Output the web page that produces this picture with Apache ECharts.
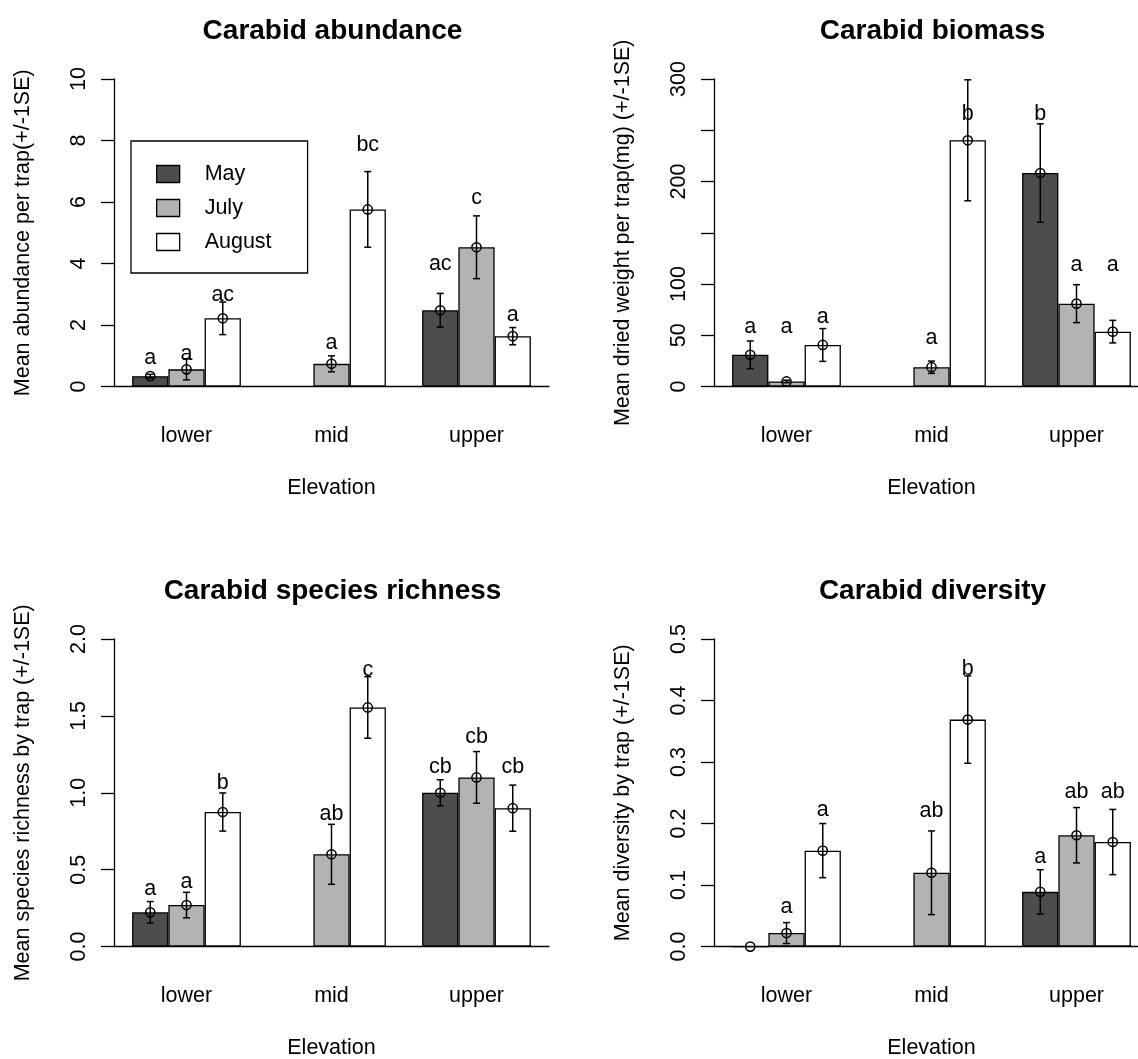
<!DOCTYPE html>
<html><head><meta charset="utf-8">
<script src="https://cdn.jsdelivr.net/npm/echarts@6/dist/echarts.min.js"></script>
<style>html,body{margin:0;padding:0;background:#fff}#c{width:1138px;height:1059px}</style>
</head><body><div id="c"></div>
<script>
// ---------- DATA ----------
const elevations = ['lower', 'mid', 'upper'];
const months = ['May', 'July', 'August'];

// rows: May, July, August ; columns: lower, mid, upper
const abundanceMean   = [[0.34, null, 2.48], [0.56, 0.74, 4.53], [2.22, 5.76, 1.64]];
const abundanceSE     = [[0.06, null, 0.55], [0.34, 0.26, 1.02], [0.53, 1.23, 0.28]];
const abundanceLetters= [['a', '', 'ac'], ['a', 'a', 'c'], ['ac', 'bc', 'a']];
const abundanceLetterY= [[0.92, null, 3.97], [1.06, 1.41, 6.13], [2.96, 7.86, 2.31]];
const abundanceTicks  = [0, 2, 4, 6, 8, 10];
const abundanceTickLabels = ['0', '2', '4', '6', '8', '10'];

const biomassMean   = [[31, null, 208.3], [5, 18.9, 80.9], [40.6, 240.2, 53.6]];
const biomassSE     = [[13.5, null, 48], [1.2, 6, 18.5], [16, 59, 11]];
const biomassLetters= [['a', '', 'b'], ['a', 'a', 'a'], ['a', 'b', 'a']];
const biomassLetterY= [[58, null, 266], [58, 47.6, 119], [68, 266, 119]];
const biomassTicks  = [0, 50, 100, 150, 200, 250, 300];
const biomassTickLabels = ['0', '50', '100', '', '200', '', '300'];

const richnessMean   = [[0.223, null, 1.0], [0.27, 0.6, 1.1], [0.875, 1.555, 0.9]];
const richnessSE     = [[0.07, null, 0.085], [0.083, 0.195, 0.168], [0.124, 0.2, 0.15]];
const richnessLetters= [['a', '', 'cb'], ['a', 'ab', 'cb'], ['b', 'c', 'cb']];
const richnessLetterY= [[0.375, null, 1.165], [0.42, 0.86, 1.36], [1.062, 1.8, 1.165]];
const richnessTicks  = [0, 0.5, 1.0, 1.5, 2.0];
const richnessTickLabels = ['0.0', '0.5', '1.0', '1.5', '2.0'];

const diversityMean   = [[0, null, 0.089], [0.022, 0.12, 0.181], [0.156, 0.369, 0.17]];
const diversitySE     = [[0, null, 0.036], [0.017, 0.068, 0.045], [0.044, 0.071, 0.053]];
const diversityLetters= [['', '', 'a'], ['a', 'ab', 'ab'], ['a', 'b', 'ab']];
const diversityLetterY= [[null, null, 0.145], [0.064, 0.221, 0.251], [0.222, 0.451, 0.251]];
const diversityTicks  = [0, 0.1, 0.2, 0.3, 0.4, 0.5];
const diversityTickLabels = ['0.0', '0.1', '0.2', '0.3', '0.4', '0.5'];

const titles = ['Carabid abundance', 'Carabid biomass', 'Carabid species richness', 'Carabid diversity'];
const yNames = ['Mean abundance per trap(+/-1SE)', 'Mean dried weight per trap(mg) (+/-1SE)',
                'Mean species richness by trap (+/-1SE)', 'Mean diversity by trap (+/-1SE)'];
const xName = 'Elevation';

// ---------- STYLE / LAYOUT ----------
const FONT = '"Liberation Sans", Arial, Helvetica, sans-serif';
const FS = 21.5;
const monthColors = ['#4d4d4d', '#b3b3b3', '#ffffff'];
const gridPos = [
  {left: 114, top: 79},
  {left: 714, top: 79},
  {left: 114, top: 639},
  {left: 714, top: 639}
];
const GW = 435, GH = 307.6;

const panels = [
  {mean: abundanceMean, se: abundanceSE, letters: abundanceLetters, ly: abundanceLetterY, ticks: abundanceTicks, tl: abundanceTickLabels},
  {mean: biomassMean, se: biomassSE, letters: biomassLetters, ly: biomassLetterY, ticks: biomassTicks, tl: biomassTickLabels},
  {mean: richnessMean, se: richnessSE, letters: richnessLetters, ly: richnessLetterY, ticks: richnessTicks, tl: richnessTickLabels},
  {mean: diversityMean, se: diversitySE, letters: diversityLetters, ly: diversityLetterY, ticks: diversityTicks, tl: diversityTickLabels}
];

const grids = [], xAxes = [], yAxes = [], series = [], titleList = [];
panels.forEach((p, pi) => {
  const g = gridPos[pi];
  grids.push({left: g.left, top: g.top, width: GW, height: GH, containLabel: false, outerBoundsMode: 'none'});
  titleList.push({
    text: titles[pi], left: g.left + GW / 2 - 4, top: g.top - 67, textAlign: 'center',
    textStyle: {fontFamily: FONT, fontSize: 28, fontWeight: 'bold', color: '#000'}
  });
  xAxes.push({
    type: 'category', gridIndex: pi, data: elevations,
    axisLine: {show: true, lineStyle: {color: '#000', width: 1.3}},
    axisTick: {show: false},
    axisLabel: {margin: 38, fontFamily: FONT, fontSize: FS, color: '#000'},
    splitLine: {show: false},
    name: xName, nameLocation: 'middle', nameGap: 90,
    nameTextStyle: {fontFamily: FONT, fontSize: FS, color: '#000'}
  });
  const step = p.ticks[1] - p.ticks[0];
  yAxes.push({
    type: 'value', gridIndex: pi, min: p.ticks[0], max: p.ticks[p.ticks.length - 1], interval: step,
    axisLine: {show: true, lineStyle: {color: '#000', width: 1.3}},
    axisTick: {show: true, length: 13, lineStyle: {color: '#000', width: 1.3}},
    splitLine: {show: false},
    axisLabel: {
      rotate: 90, margin: 24, fontFamily: FONT, fontSize: FS, color: '#000',
      formatter: function (v) {
        for (let k = 0; k < p.ticks.length; k++) if (Math.abs(p.ticks[k] - v) < step / 100) return p.tl[k];
        return '';
      }
    },
    name: yNames[pi], nameLocation: 'middle', nameRotate: 90, nameGap: 80,
    nameTextStyle: {fontFamily: FONT, fontSize: FS, color: '#000'}
  });
  months.forEach((m, mi) => {
    series.push({
      type: 'bar', name: m, xAxisIndex: pi, yAxisIndex: pi, data: p.mean[mi],
      barGap: '0%', barCategoryGap: '25%',
      itemStyle: {color: monthColors[mi], borderColor: '#000', borderWidth: 1.3},
      emphasis: {disabled: true}, animation: false
    });
  });
  months.forEach((m, mi) => {
    series.push({
      type: 'custom', name: 'err-' + m, xAxisIndex: pi, yAxisIndex: pi,
      data: elevations.map((e, ci) => [ci, p.mean[mi][ci], p.se[mi][ci]]),
      encode: {x: 0, y: 1}, clip: false, animation: false, silent: true, z: 5,
      renderItem: function (params, api) {
        const ci = params.dataIndex;
        const mean = p.mean[mi][ci];
        if (mean == null) return null;
        const se = p.se[mi][ci] || 0;
        const c = api.coord([ci, mean]);
        const band = api.size([1, 0])[0];
        const bw = band * 0.75 / 3;
        const x = c[0] + (mi - 1) * bw;
        const children = [];
        const ls = {stroke: '#000', lineWidth: 1.5};
        if (se > 0) {
          const yt = api.coord([ci, mean + se])[1];
          const yb = api.coord([ci, mean - se])[1];
          children.push({type: 'line', shape: {x1: x, y1: yt, x2: x, y2: yb}, style: ls});
          children.push({type: 'line', shape: {x1: x - 3.5, y1: yt, x2: x + 3.5, y2: yt}, style: ls});
          children.push({type: 'line', shape: {x1: x - 3.5, y1: yb, x2: x + 3.5, y2: yb}, style: ls});
        }
        children.push({type: 'circle', shape: {cx: x, cy: c[1], r: 4.6}, style: {fill: 'none', stroke: '#000', lineWidth: 1.5}});
        const lt = p.letters[mi][ci];
        const lyv = p.ly[mi][ci];
        if (lt && lyv != null) {
          const yl = api.coord([ci, lyv])[1];
          children.push({type: 'text', style: {text: lt, x: x, y: yl, textAlign: 'center', textVerticalAlign: 'middle',
            font: FS + 'px ' + FONT, fill: '#000'}});
        }
        return {type: 'group', children: children};
      }
    });
  });
});

const chart = echarts.init(document.getElementById('c'), null, {renderer: 'canvas'});
chart.setOption({
  animation: false,
  backgroundColor: '#fff',
  title: titleList,
  grid: grids,
  xAxis: xAxes,
  yAxis: yAxes,
  legend: {
    data: months, orient: 'vertical', left: 131, top: 141,
    padding: [22, 36, 20, 25], itemWidth: 23, itemHeight: 17, itemGap: 12,
    borderColor: '#000', borderWidth: 1.3, backgroundColor: '#fff', icon: 'rect', selectedMode: false,
    itemStyle: {borderColor: '#000', borderWidth: 1.3},
    textStyle: {fontFamily: FONT, fontSize: FS, color: '#000', padding: [0, 0, 0, 20]}
  },
  series: series
});
</script></body></html>
